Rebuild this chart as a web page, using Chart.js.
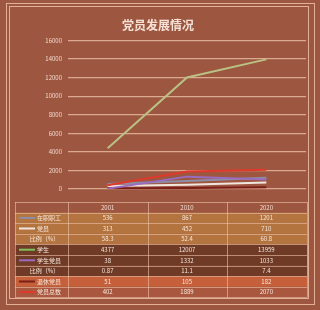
<!DOCTYPE html>
<html lang="zh">
<head>
<meta charset="UTF-8">
<title>党员发展情况</title>
<script src="https://cdn.jsdelivr.net/npm/chart.js"></script>
<style>
  html, body { margin: 0; padding: 0; background: #9d5741; }
  #wrap { width: 320px; height: 310px; }
</style>
</head>
<body>
<div id="wrap"><canvas id="partyChart" width="320" height="310"></canvas></div>
<script>
// data
const years = ['2001', '2010', '2020'];
const staff = [536, 867, 1201];          // 在职职工
const staffMembers = [313, 452, 710];    // 党员
const staffRatio = ['58.3', '52.4', '60.8'];
const students = [4377, 12007, 13959];   // 学生
const studentMembers = [38, 1332, 1033]; // 学生党员
const studentRatio = ['0.87', '11.1', '7.4'];
const retired = [51, 105, 182];          // 退休党员
const totalMembers = [402, 1889, 2070];  // 党员总数
const yTicks = [0, 2000, 4000, 6000, 8000, 10000, 12000, 14000, 16000];

const FONT = '"Noto Sans CJK SC", "Noto Sans", sans-serif';
const lineColors = {
    staff: '#8c8ea6',
    staffMembers: '#f2e6e0',
    students: '#b9c184',
    studentMembers: '#9a6cc0',
    retired: '#7a1f18',
    totalMembers: '#e0392c'
};

// rows of the data table under the plot
const tableRows = [
    { label: '在职职工', values: staff, key: lineColors.staff, fill: '#b3743f' },
    { label: '党员', values: staffMembers, key: lineColors.staffMembers, fill: '#b3743f' },
    { label: '比例（%）', values: staffRatio, key: null, fill: '#b3743f' },
    { label: '学生', values: students, key: '#7fc25c', fill: '#6f3b27' },
    { label: '学生党员', values: studentMembers, key: lineColors.studentMembers, fill: '#6f3b27' },
    { label: '比例（%）', values: studentRatio, key: null, fill: '#6f3b27' },
    { label: '退休党员', values: retired, key: lineColors.retired, fill: '#c5603a' },
    { label: '党员总数', values: totalMembers, key: lineColors.totalMembers, fill: '#a9583f' }
];

const framePlugin = {
    id: 'frame',
    beforeDraw(chart) {
        const c = chart.ctx;
        c.save();
        c.fillStyle = '#9d5741';
        c.fillRect(0, 0, chart.width, chart.height);
        c.strokeStyle = 'rgba(240,190,165,0.85)';
        c.lineWidth = 1;
        c.strokeRect(6.5, 3.5, 308, 301);
        c.strokeRect(9.5, 6.5, 299, 292);
        c.restore();
    }
};

const tablePlugin = {
    id: 'dataTable',
    afterDraw(chart) {
        const c = chart.ctx;
        const x = chart.scales.x;
        const left = 15, right = 307, labelRight = 68;
        const top = 202, rowH = 10.6;
        const colW = (right - labelRight) / years.length;
        c.save();
        c.font = '6px ' + FONT;
        c.textAlign = 'center';
        c.textBaseline = 'middle';
        // header
        c.fillStyle = '#f3ddd2';
        years.forEach((y, i) => c.fillText(y, x.getPixelForValue(i), top + rowH / 2));
        tableRows.forEach((row, r) => {
            const y0 = top + rowH * (r + 1);
            c.fillStyle = row.fill;
            c.fillRect(left, y0, right - left, rowH);
            const cy = y0 + rowH / 2;
            c.fillStyle = '#f6e6dc';
            if (row.key) {
                c.strokeStyle = row.key;
                c.lineWidth = 2;
                c.beginPath();
                c.moveTo(19, cy);
                c.lineTo(35, cy);
                c.stroke();
                c.textAlign = 'left';
                c.fillText(row.label, 37, cy);
            } else {
                c.textAlign = 'center';
                c.fillText(row.label, (left + labelRight) / 2 + 3, cy);
            }
            c.textAlign = 'center';
            row.values.forEach((v, i) => c.fillText(String(v), x.getPixelForValue(i), cy));
        });
        // grid lines of the table
        const bottom = top + rowH * (tableRows.length + 1);
        c.strokeStyle = 'rgba(240,195,170,0.75)';
        c.lineWidth = 0.8;
        for (let r = 0; r <= tableRows.length + 1; r++) {
            const yy = Math.round(top + rowH * r) + 0.5;
            c.beginPath();
            c.moveTo(left, yy);
            c.lineTo(right, yy);
            c.stroke();
        }
        [left, labelRight, labelRight + colW, labelRight + 2 * colW, right].forEach(xx => {
            c.beginPath();
            c.moveTo(Math.round(xx) + 0.5, top);
            c.lineTo(Math.round(xx) + 0.5, bottom);
            c.stroke();
        });
        c.restore();
    }
};

function series(label, data, color) {
    return {
        label: label,
        data: data,
        borderColor: color,
        backgroundColor: color,
        borderWidth: 2,
        pointRadius: 0,
        tension: 0
    };
}

const ctx = document.getElementById('partyChart').getContext('2d');
new Chart(ctx, {
    type: 'line',
    data: {
        labels: years,
        datasets: [
            series('党员总数', totalMembers, lineColors.totalMembers),
            series('学生党员', studentMembers, lineColors.studentMembers),
            series('在职职工', staff, lineColors.staff),
            series('党员', staffMembers, lineColors.staffMembers),
            series('退休党员', retired, lineColors.retired),
            series('学生', students, lineColors.students)
        ]
    },
    options: {
        responsive: false,
        animation: false,
        devicePixelRatio: 1,
        layout: { padding: { left: 10, right: 14, top: 0, bottom: 121 } },
        plugins: {
            legend: { display: false },
            tooltip: { enabled: false },
            title: {
                display: true,
                text: '党员发展情况',
                color: '#f5e0d6',
                font: { family: FONT, size: 12, weight: 'bold' },
                padding: { top: 18, bottom: 8 }
            }
        },
        scales: {
            x: {
                display: false,
                offset: true
            },
            y: {
                min: 0,
                max: 16000,
                afterFit(scale) { scale.width = 58; },
                afterBuildTicks(scale) { scale.ticks = yTicks.map(v => ({ value: v })); },
                border: { display: false },
                grid: { color: 'rgba(242,196,172,0.75)', lineWidth: 1.2, drawTicks: false },
                ticks: {
                    color: '#f3d8cc',
                    padding: 6,
                    font: { family: FONT, size: 6 },
                    callback: v => String(v)
                }
            }
        }
    },
    plugins: [framePlugin, tablePlugin]
});
</script>
</body>
</html>
